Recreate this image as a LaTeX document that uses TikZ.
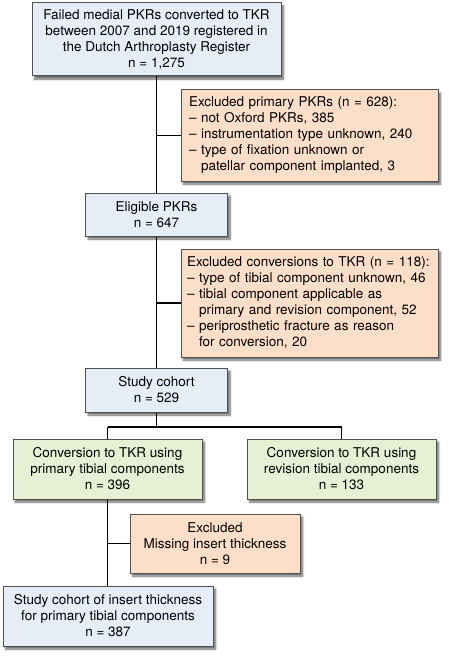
\documentclass[tikz,border=0pt]{standalone}
\usepackage{fontspec}
\setmainfont{TeX Gyre Heros}
\usetikzlibrary{shadows.blur}
\definecolor{bluefill}{HTML}{E6EDF7}
\definecolor{orangefill}{HTML}{FDDFC9}
\definecolor{greenfill}{HTML}{E6F0D5}
\definecolor{boxline}{HTML}{505050}
\tikzset{
  box/.style={draw=boxline, line width=1pt, blur shadow={shadow xshift=2.5pt, shadow yshift=-3pt, shadow blur steps=6, shadow opacity=60},
    inner sep=0pt, font=\fontsize{13.5}{16}\selectfont},
  bluebox/.style={box, fill=bluefill, align=center},
  greenbox/.style={box, fill=greenfill, align=center},
  exclbox/.style={box, fill=orangefill, align=left},
  conn/.style={line width=1.8pt, black}
}
\newcommand{\ind}{\phantom{– }}
\begin{document}
\begin{tikzpicture}[x=1pt,y=-1pt]
\useasboundingbox (0,0) rectangle (449,658);
\node[bluebox, minimum width=249pt, minimum height=73pt] (b1) at (156.5,39.5)
  {Failed medial PKRs converted to TKR\\between 2007 and 2019 registered in\\the Dutch Arthroplasty Register\\n = 1,275};
\node[exclbox, minimum width=257pt, minimum height=91pt, text width=241pt] (e1) at (309.5,135.5)
  {Excluded primary PKRs (n = 628):\\– not Oxford PKRs, 385\\– instrumentation type unknown, 240\\– type of fixation unknown or\\\ind patellar component implanted, 3};
\node[bluebox, minimum width=142pt, minimum height=43pt] (b2) at (156.5,214.5)
  {Eligible PKRs\\n = 647};
\node[exclbox, minimum width=257pt, minimum height=108pt, text width=245pt] (e2) at (309.5,303)
  {Excluded conversions to TKR (n = 118):\\– type of tibial component unknown, 46\\– tibial component applicable as\\\ind primary and revision component, 52\\– periprosthetic fracture as reason\\\ind for conversion, 20};
\node[bluebox, minimum width=142pt, minimum height=44pt] (b3) at (156.5,390)
  {Study cohort\\n = 529};
\node[greenbox, minimum width=189pt, minimum height=60pt] (g1) at (107.5,469)
  {Conversion to TKR using\\primary tibial components\\n = 396};
\node[greenbox, minimum width=189pt, minimum height=60pt] (g2) at (341.5,469)
  {Conversion to TKR using\\revision tibial components\\n = 133};
\node[exclbox, align=center, minimum width=170pt, minimum height=59pt] (e3) at (215,543.5)
  {Excluded\\Missing insert thickness\\n = 9};
\node[bluebox, minimum width=210pt, minimum height=60pt] (b4) at (108,616)
  {Study cohort of insert thickness\\for primary tibial components\\n = 387};
\coordinate (split) at (156.5,427);
\draw[conn] (b1.south) -- (b2.north);
\draw[conn] (b1.south |- e1.west) -- (e1.west);
\draw[conn] (b2.south) -- (b3.north);
\draw[conn] (b2.south |- e2.west) -- (e2.west);
\draw[conn] (b3.south) -- (split);
\draw[conn] (g1.north |- split) -- (g2.north |- split);
\draw[conn] (g1.north |- split) -- (g1.north);
\draw[conn] (g2.north |- split) -- (g2.north);
\draw[conn] (g1.south) -- (g1.south |- b4.north);
\draw[conn] (g1.south |- e3.west) -- (e3.west);
\end{tikzpicture}
\end{document}
